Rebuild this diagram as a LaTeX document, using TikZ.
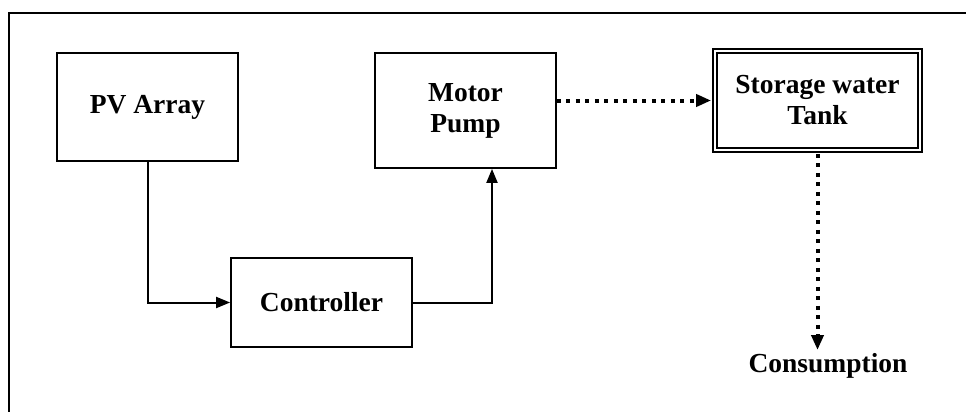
\documentclass[tikz,border=0pt]{standalone}
\usepackage{fontspec}
\setmainfont{Liberation Serif}
\usetikzlibrary{arrows.meta}
\tikzset{
  block/.style={draw, line width=1.8pt, rectangle, align=center, minimum width=181pt,
    font=\bfseries\fontsize{27.5}{31}\selectfont},
  flow/.style={-{Triangle[length=14pt,width=11pt]}, line width=2pt},
  water/.style={-{Triangle[length=15pt,width=12pt]}, line width=4pt, dash pattern=on 4pt off 5.5pt},
}
\begin{document}
\begin{tikzpicture}[x=1pt,y=-1pt]
\useasboundingbox (0,0) rectangle (966,412);
\draw[line width=1.8pt] (9,412) -- (9,13) -- (966,13);

\node[block, minimum height=108pt] (pv) at (147.5,107) {PV Array};
\node[block, minimum height=115pt] (motor) at (465.5,110.5) {Motor\\Pump};
\node[block, minimum height=89pt] (ctrl) at (321.5,302.5) {Controller};
\node[block, line width=1.8pt, double, double distance=2.6pt, minimum width=205pt, minimum height=99pt] (tank) at (817.5,100.5) {Storage water\\Tank};
\node[font=\bfseries\fontsize{27.5}{31}\selectfont] (use) at (828,366) {Consumption};

\draw[flow] (pv.south) |- (ctrl.west);
\draw[flow] (ctrl.east) -| ([xshift=26.5pt]motor.south);
\draw[water, shorten >=3pt] (tank.west -| motor.east) -- (tank.west);
\draw[water, shorten <=3pt] (tank.south) -- (tank.south |- use.north);
\end{tikzpicture}
\end{document}
